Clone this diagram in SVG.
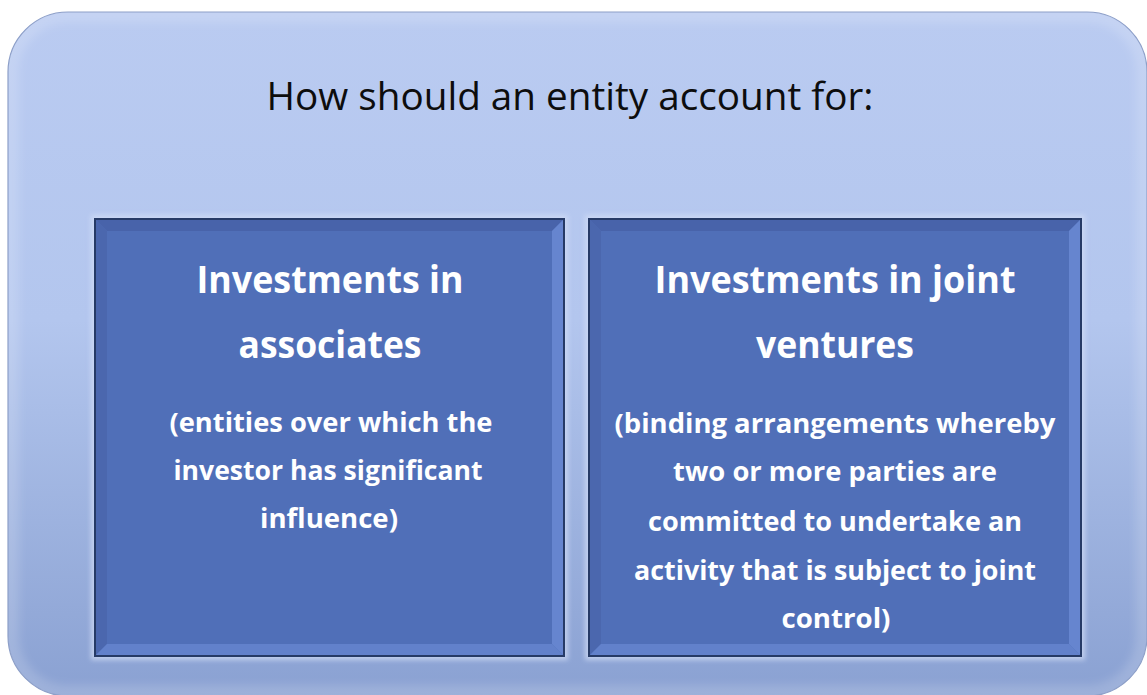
<svg xmlns="http://www.w3.org/2000/svg" width="1147" height="695" viewBox="0 0 1147 695">
  <defs>
    <linearGradient id="outerGrad" x1="0" y1="0" x2="0" y2="1">
      <stop offset="0" stop-color="#bacbf1"/>
      <stop offset="0.45" stop-color="#b3c6ee"/>
      <stop offset="1" stop-color="#8aa1d2"/>
    </linearGradient>
    <clipPath id="outerClip">
      <rect x="8" y="12" width="1139" height="684" rx="60" ry="60"/>
    </clipPath>
    <filter id="blur4" x="-5%" y="-5%" width="110%" height="110%">
      <feGaussianBlur stdDeviation="4"/>
    </filter>
    <filter id="blur2" x="-5%" y="-5%" width="110%" height="110%">
      <feGaussianBlur stdDeviation="2.5"/>
    </filter>
  </defs>
  <style>
    .title { font-family: "Open Sans", "Noto Sans", "Liberation Sans", sans-serif; font-size: 38px; fill: #0d0d0d; }
    .head { font-family: "Open Sans", "Noto Sans", "Liberation Sans", sans-serif; font-weight: 700; font-size: 37px; fill: #ffffff; }
    .sub { font-family: "Open Sans", "Noto Sans", "Liberation Sans", sans-serif; font-weight: 700; font-size: 26px; fill: #ffffff; }
    .boxfill { fill: #506fb8; }
    .bevTop { fill: #4863aa; }
    .bevLeft { fill: #4b67ae; }
    .bevRight { fill: #6685cf; }
    .bevBot { fill: #6281cb; }
    .boxEdge { fill: none; stroke: #263a66; stroke-width: 2; }
    .halo { fill: none; stroke: #d2ddf6; stroke-width: 8; opacity: 0.75; }
  </style>

  <g id="background">
    <rect x="8" y="12" width="1139" height="684" rx="60" ry="60" fill="url(#outerGrad)"/>
    <g clip-path="url(#outerClip)">
      <rect x="8" y="12" width="1139" height="684" rx="60" ry="60" fill="none" stroke="#ffffff" stroke-opacity="0.16" stroke-width="22" filter="url(#blur4)"/>
    </g>
    <rect x="8" y="12" width="1139" height="684" rx="60" ry="60" fill="none" stroke="#8d9fc8" stroke-width="1.2"/>
  </g>

  <g id="title">
    <text class="title" x="570" y="110" text-anchor="middle" textLength="607" lengthAdjust="spacingAndGlyphs">How should an entity account for:</text>
  </g>

  <g id="connectors"></g>

  <g id="node-associates">
    <rect class="halo" x="95" y="219" width="469" height="437" filter="url(#blur2)"/>
    <rect class="boxfill" x="95" y="219" width="469" height="437"/>
    <polygon class="bevTop" points="95,219 564,219 552,231 107,231"/>
    <polygon class="bevLeft" points="95,219 107,231 107,644 95,656"/>
    <polygon class="bevRight" points="564,219 564,656 552,644 552,231"/>
    <polygon class="bevBot" points="95,656 107,644 552,644 564,656"/>
    <rect class="boxEdge" x="95" y="219" width="469" height="437"/>
    <text class="head" x="330" y="293" text-anchor="middle" textLength="267" lengthAdjust="spacingAndGlyphs">Investments in</text>
    <text class="head" x="330" y="358" text-anchor="middle" textLength="183" lengthAdjust="spacingAndGlyphs">associates</text>
    <text class="sub" x="331" y="432" text-anchor="middle" textLength="323" lengthAdjust="spacingAndGlyphs">(entities over which the</text>
    <text class="sub" x="328" y="480" text-anchor="middle" textLength="309" lengthAdjust="spacingAndGlyphs">investor has significant</text>
    <text class="sub" x="329" y="528" text-anchor="middle" textLength="138" lengthAdjust="spacingAndGlyphs">influence)</text>
  </g>

  <g id="node-joint-ventures">
    <rect class="halo" x="589" y="219" width="492" height="437" filter="url(#blur2)"/>
    <rect class="boxfill" x="589" y="219" width="492" height="437"/>
    <polygon class="bevTop" points="589,219 1081,219 1069,231 601,231"/>
    <polygon class="bevLeft" points="589,219 601,231 601,644 589,656"/>
    <polygon class="bevRight" points="1081,219 1081,656 1069,644 1069,231"/>
    <polygon class="bevBot" points="589,656 601,644 1069,644 1081,656"/>
    <rect class="boxEdge" x="589" y="219" width="492" height="437"/>
    <text class="head" x="835" y="293" text-anchor="middle" textLength="361" lengthAdjust="spacingAndGlyphs">Investments in joint</text>
    <text class="head" x="835" y="358" text-anchor="middle" textLength="158" lengthAdjust="spacingAndGlyphs">ventures</text>
    <text class="sub" x="835" y="433" text-anchor="middle" textLength="441" lengthAdjust="spacingAndGlyphs">(binding arrangements whereby</text>
    <text class="sub" x="835" y="481" text-anchor="middle" textLength="324" lengthAdjust="spacingAndGlyphs">two or more parties are</text>
    <text class="sub" x="835" y="531" text-anchor="middle" textLength="374" lengthAdjust="spacingAndGlyphs">committed to undertake an</text>
    <text class="sub" x="835" y="580" text-anchor="middle" textLength="402" lengthAdjust="spacingAndGlyphs">activity that is subject to joint</text>
    <text class="sub" x="836" y="628" text-anchor="middle" textLength="109" lengthAdjust="spacingAndGlyphs">control)</text>
  </g>
</svg>
